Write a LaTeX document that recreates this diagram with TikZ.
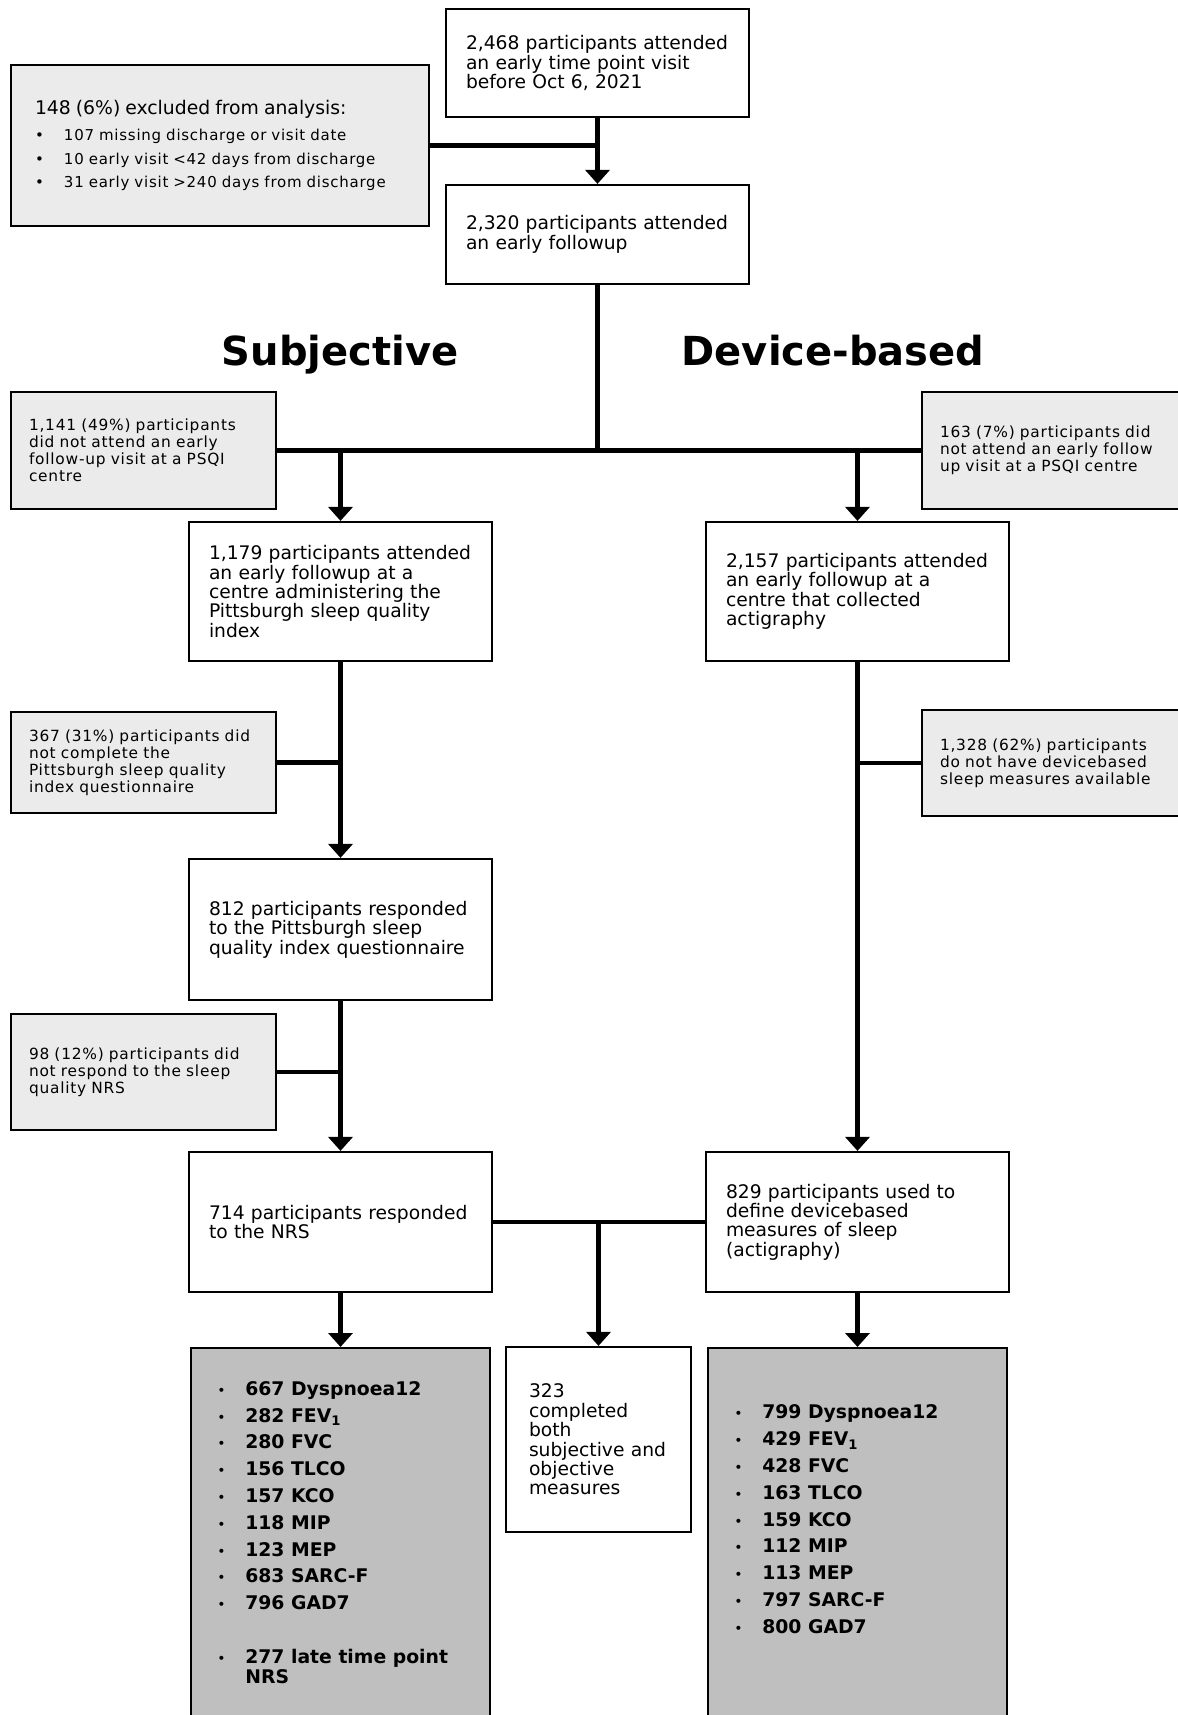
\documentclass[tikz,border=0pt]{standalone}
\usepackage{fontspec}
\setmainfont{DejaVu Sans}
\newfontfamily\grayfam[LetterSpace=5]{DejaVu Sans}
\usetikzlibrary{arrows.meta}
\definecolor{lightgr}{HTML}{EBEBEB}
\definecolor{darkgr}{HTML}{BFBFBF}
\newcommand{\boxfont}{\fontsize{9.35}{9.7}\selectfont}
\newcommand{\grayfont}{\grayfam\fontsize{7.7}{8.5}\selectfont}
\newcommand{\listfont}{\bfseries\fontsize{9.4}{13.4}\selectfont}
\newcommand{\titlefont}{\bfseries\fontsize{20}{24}\selectfont}
\newcommand{\gbul}{\makebox[14.5pt][l]{\textbullet}}
\newcommand{\lbul}{\makebox[14pt][l]{{\normalfont\fontsize{7}{7}\selectfont\textbullet}}}
\tikzset{
  wbox/.style={draw, line width=1.1pt, fill=white, text width=131.5pt, inner xsep=10pt, align=left, font=\boxfont},
  gbox/.style={draw, line width=1.1pt, fill=lightgr, text width=114.5pt, inner xsep=9pt, align=left, font=\grayfont},
  lbox/.style={draw, line width=1.1pt, fill=darkgr, minimum width=149.5pt, minimum height=190pt, anchor=north},
  ltxt/.style={inner sep=0pt, align=left, anchor=north west, font=\listfont},
  ttl/.style={font=\titlefont, anchor=base},
  ln/.style={line width=2.3pt},
  arr/.style={line width=2.3pt, -{Triangle[width=12pt,length=7pt]}}
}
\begin{document}
\begin{tikzpicture}[x=0.5pt,y=-0.5pt]
\useasboundingbox (0,0) rectangle (1178,1715);
\node[wbox, minimum height=54pt] (b2468) at (597.5,63) {2,468 participants attended\\an early time point visit\\before Oct 6, 2021};
\node[gbox, text width=185pt, inner xsep=12pt, minimum height=80.5pt, font=\grayfam\fontsize{7.5}{11.75}\selectfont] (excl) at (220,145.5) {{\normalfont\fontsize{9.4}{11.75}\selectfont 148 (6\%) excluded from analysis:}\\[1.25pt]
\gbul 107 missing discharge or visit date\\
\gbul 10 early visit <42 days from discharge\\
\gbul 31 early visit >240 days from discharge};
\node[wbox, minimum height=49.5pt] (b2320) at (597.5,234.5) {2,320 participants attended\\an early followup};
\draw[arr](b2468.south) -- (b2320.north);
\draw[ln](excl.east) -- (excl.east -| b2468.south);

\node[ttl] (tsubj) at (340,365.5) {Subjective};
\node[ttl] (tdev) at (833,365.5) {Device-based};

\node[gbox, minimum height=58.5pt] (g1141) at (143.5,450.5) {1,141 (49\%) participants\\did not attend an early\\follow-up visit at a PSQI\\centre};
\node[gbox, text width=112pt, minimum height=58.5pt] (g163) at (1052,450.5) {163 (7\%) participants did\\not attend an early follow\\up visit at a PSQI centre};
\node[wbox, minimum height=69.5pt] (b1179) at (340.5,591.5) {1,179 participants attended\\an early followup at a\\centre administering the\\Pittsburgh sleep quality\\index};
\node[wbox, minimum height=69.5pt] (b2157) at (857.5,591.5) {2,157 participants attended\\an early followup at a\\centre that collected\\actigraphy};
\draw[ln](b2320.south) -- (b2320.south |- g1141.east);
\draw[ln](g1141.east) -- (g163.west);
\draw[arr](b1179.north |- g1141.east) -- (b1179.north);
\draw[arr](b2157.north |- g163.west) -- (b2157.north);

\node[gbox, minimum height=50.5pt] (g367) at (143.5,762.5) {367 (31\%) participants did\\not complete the\\Pittsburgh sleep quality\\index questionnaire};
\node[gbox, text width=112pt, minimum height=53pt] (g1328) at (1052,763) {1,328 (62\%) participants\\do not have devicebased\\sleep measures available};
\node[wbox, minimum height=70.5pt] (b812) at (340.5,929.5) {812 participants responded\\to the Pittsburgh sleep\\quality index questionnaire};
\node[gbox, minimum height=58pt] (g98) at (143.5,1072) {98 (12\%) participants did\\not respond to the sleep\\quality NRS};
\node[wbox, minimum height=70pt] (b714) at (340.5,1222) {714 participants responded\\to the NRS};
\node[wbox, minimum height=70pt] (b829) at (857.5,1222) {829 participants used to\\define devicebased\\measures of sleep\\(actigraphy)};
\draw[arr](b1179.south) -- (b812.north);
\draw[ln](g367.east) -- (g367.east -| b1179.south);
\draw[arr](b812.south) -- (b714.north);
\draw[ln](g98.east) -- (g98.east -| b812.south);
\draw[arr](b2157.south) -- (b829.north);
\draw[ln](g1328.west) -- (g1328.west -| b2157.south);

\node[lbox] (lsts) at (340.5,1347) {};
\node[wbox, text width=69.5pt, inner xsep=11.5pt, minimum height=92.5pt] (m323) at (598.5,1439.5) {323\\completed\\both\\subjective and\\objective\\measures};
\node[lbox] (lstd) at (857.5,1347) {};
\node[ltxt] (lststxt) at ([xshift=13.5pt,yshift=-17pt]lsts.north west) {\lbul 667 Dyspnoea12\\
\lbul 282 FEV\textsubscript{1}\\
\lbul 280 FVC\\
\lbul 156 TLCO\\
\lbul 157 KCO\\
\lbul 118 MIP\\
\lbul 123 MEP\\
\lbul 683 SARC-F\\
\lbul 796 GAD7\\[13.4pt]
\lbul 277 late time point\\[-3.55pt]
\hspace*{14pt}NRS};
\node[ltxt] (lstdtxt) at ([xshift=13.5pt,yshift=-28.75pt]lstd.north west) {\lbul 799 Dyspnoea12\\
\lbul 429 FEV\textsubscript{1}\\
\lbul 428 FVC\\
\lbul 163 TLCO\\
\lbul 159 KCO\\
\lbul 112 MIP\\
\lbul 113 MEP\\
\lbul 797 SARC-F\\
\lbul 800 GAD7};
\draw[ln](b714.east) -- (b829.west);
\draw[arr](m323.north |- b714.east) -- (m323.north);
\draw[arr](b714.south) -- (lsts.north);
\draw[arr](b829.south) -- (lstd.north);

\end{tikzpicture}
\end{document}
